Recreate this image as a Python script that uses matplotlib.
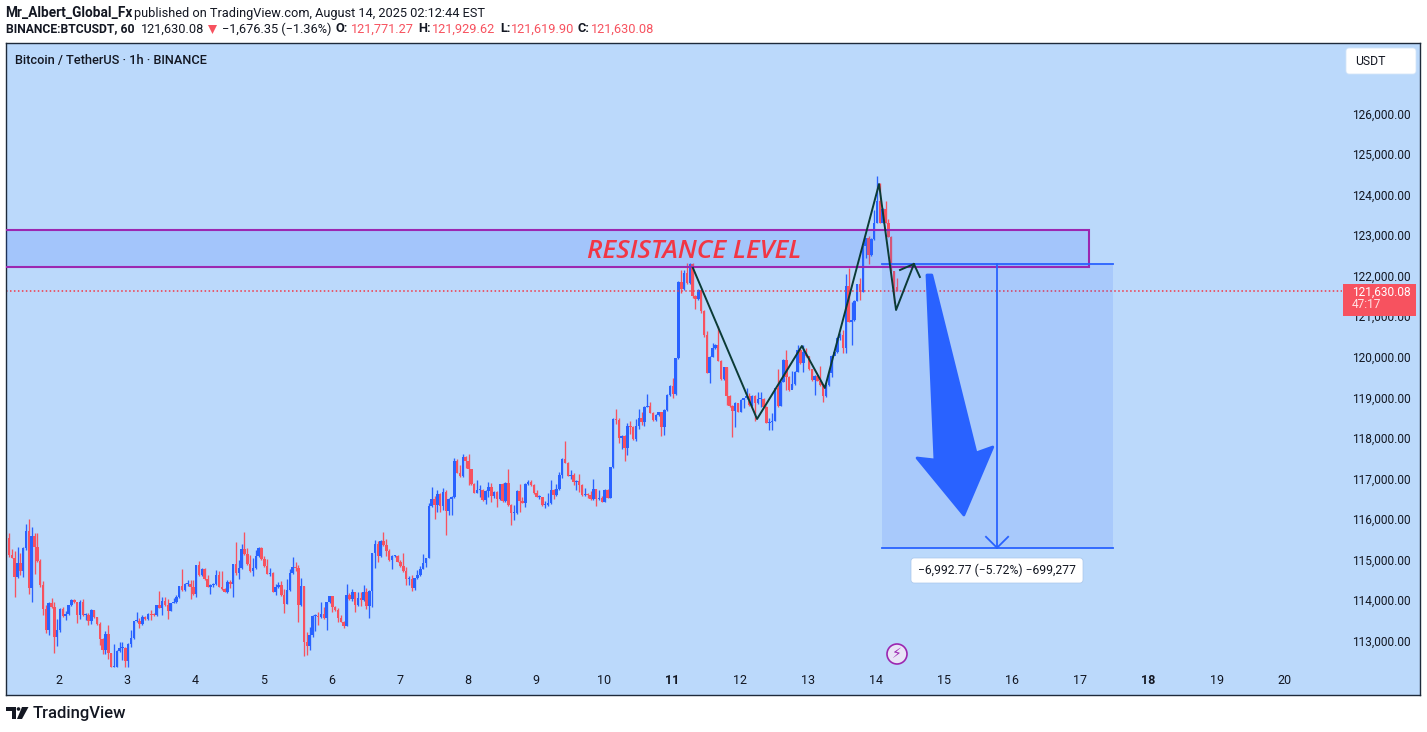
import matplotlib
matplotlib.use("Agg")
import matplotlib.pyplot as plt
import numpy as np
from matplotlib.patches import Rectangle, Polygon, FancyBboxPatch, Circle
from matplotlib.transforms import Affine2D

first_open = 115530
closes = [
    115110, 115040, 114575, 114900, 114725, 115275, 115700, 114305, 115580, 115315,
    114970, 114370, 113785, 113260, 113935, 113835, 113095, 113260, 113780, 113615,
    113645, 113870, 114000, 113950, 113630, 113960, 113630, 113630, 113490, 113755,
    113570, 113410, 113040, 112765, 113160, 112685, 112355, 112355, 112745, 112810,
    112810, 112495, 112915, 113065, 113480, 113490, 113410, 113590, 113525, 113655,
    113640, 113620, 113875, 113810, 113975, 113875, 113735, 113935, 113940, 114080,
    114345, 114245, 114395, 114395, 114310, 114150, 114865, 114615, 114765, 114520,
    114330, 114370, 114395, 114615, 114330, 114270, 114205, 114450, 114395, 114890,
    114660, 114780, 115260, 115125, 114890, 114715, 114780, 115085, 115285, 115000,
    114840, 114650, 114675, 114205, 114310, 114370, 114125, 113910, 114245, 114660,
    114820, 114790, 113875, 114345, 112970, 112875, 113135, 113605, 113615, 113570,
    113655, 113550, 113940, 114100, 113835, 113755, 113565, 113465, 113365, 114125,
    114025, 114190, 113875, 114040, 114000, 114190, 113860, 114230, 115150, 115380,
    115085, 115455, 115355, 115215, 114985, 115085, 115085, 114945, 114845, 114725,
    114520, 114520, 114305, 114535, 114615, 114765, 114905, 115030, 116320, 116490,
    116345, 116615, 116320, 116665, 116205, 116485, 116535, 117430, 117140, 117060,
    117535, 117430, 117225, 116855, 116650, 116705, 116715, 116465, 116695, 116780,
    116565, 116665, 116490, 116860, 116440, 116885, 116345, 116145, 116145, 116690,
    116440, 116400, 116860, 116900, 116835, 116630, 116550, 116550, 116345, 116345,
    116385, 116715, 116580, 116740, 117085, 117480, 117390, 117065, 117085, 116920,
    116935, 116835, 116590, 116605, 116580, 116485, 116745, 116485, 116525, 116425,
    116715, 116525, 117270, 118465, 118440, 117990, 118045, 117760, 118290, 118275,
    117970, 118290, 118500, 118390, 118770, 118785, 118620, 118440, 118565, 118630,
    118275, 118685, 119055, 119280, 119080, 119960, 121850, 121665, 122055, 121810,
    122290, 121500, 121415, 121645, 121130, 120535, 119605, 120000, 120210, 120290,
    119905, 119445, 119740, 119040, 118795, 118660, 118865, 118645, 118935, 118975,
    119040, 118810, 119030, 118850, 118960, 118960, 118770, 118375, 118400, 118420,
    119220, 118795, 119385, 119920, 119510, 119180, 119320, 119630, 120165, 119840,
    120125, 120020, 119690, 119425, 119525, 119410, 119305, 119040, 119305, 119590,
    120030, 120125, 120455, 120535, 120205, 121745, 120865, 120905, 121385, 121785,
    121605, 122730, 122920, 122510, 122905, 123305, 123850, 123305, 123645, 123305,
    122960, 122120, 121730, 121630,
]
highs = [
    115644, 115250, 115215, 115315, 115150, 115315, 115875, 116000, 115790, 115645,
    115645, 115000, 114475, 113875, 113960, 114040, 113960, 113530, 113795, 113820,
    113735, 113870, 114035, 114035, 113950, 114000, 114015, 113670, 113670, 113770,
    113755, 113590, 113465, 113055, 113235, 113385, 112700, 112905, 112770, 112970,
    112970, 112850, 112950, 113260, 113480, 113695, 113565, 113630, 113605, 113690,
    113755, 113670, 113875, 114220, 114080, 114080, 114015, 113935, 114040, 114125,
    114345, 114765, 114410, 114495, 114495, 114495, 114865, 114960, 114780, 114780,
    114615, 114395, 114410, 114740, 114725, 114715, 114290, 114495, 114495, 114890,
    115440, 114985, 115380, 115685, 115290, 115110, 115030, 115235, 115300, 115315,
    115085, 115005, 114780, 114700, 114395, 114450, 114470, 114265, 114520, 114765,
    115060, 114930, 114865, 114535, 114345, 113220, 113345, 113630, 113645, 113710,
    113940, 113835, 113960, 114105, 114105, 113855, 113795, 113630, 113480, 114395,
    114180, 114265, 114205, 114190, 114190, 114370, 114290, 114245, 115150, 115480,
    115455, 115480, 115680, 115505, 115250, 115100, 115100, 115100, 114985, 115170,
    114820, 114600, 114615, 114550, 114740, 114845, 115125, 115045, 116385, 116780,
    116565, 116715, 116645, 116755, 116715, 116510, 116565, 117495, 117480, 117330,
    117600, 117550, 117600, 117240, 116895, 116960, 116835, 116730, 116715, 116920,
    116880, 116690, 116680, 116860, 116880, 116910, 117230, 116360, 116345, 116705,
    116860, 116550, 116880, 116960, 116960, 116855, 116715, 116580, 116550, 116440,
    116650, 116960, 116745, 116860, 117165, 117495, 117920, 117410, 117205, 117125,
    116960, 117110, 116855, 116755, 116630, 116690, 116985, 116745, 116715, 116565,
    116730, 116745, 117290, 118480, 118710, 118480, 118070, 118060, 118375, 118415,
    118290, 118455, 118710, 118645, 118785, 119075, 118890, 118645, 118590, 118645,
    118630, 118700, 119075, 119305, 119470, 119975, 121870, 122140, 122140, 122305,
    122305, 122305, 121525, 121660, 121645, 121150, 120635, 120020, 120330, 120305,
    120760, 119920, 119755, 119755, 119055, 118810, 118885, 118865, 118950, 118990,
    119220, 119100, 119050, 119050, 119140, 119140, 118975, 118785, 118480, 118605,
    119235, 119700, 119400, 119935, 120165, 119525, 119655, 119655, 120290, 120180,
    120290, 120205, 120020, 119690, 119540, 119540, 119780, 119320, 119320, 119605,
    120050, 120140, 120495, 120575, 120660, 122040, 122195, 121360, 121400, 121800,
    121935, 122750, 122935, 122980, 122920, 123620, 124460, 124280, 123660, 123840,
    123390, 122980, 122120, 121930,
]
lows = [
    115050, 115030, 114080, 114535, 114615, 114575, 115235, 114150, 113960, 114640,
    114945, 114330, 113630, 113195, 113135, 113795, 112700, 112875, 113220, 113590,
    113505, 113630, 113850, 113920, 113440, 113530, 113615, 113505, 113385, 113410,
    113550, 113385, 112890, 112670, 112670, 112535, 112355, 112355, 112355, 112725,
    112520, 112355, 112355, 112850, 113045, 113465, 113300, 113385, 113505, 113505,
    113505, 113605, 113605, 113795, 113630, 113850, 113530, 113730, 113920, 113935,
    114040, 114230, 114230, 114345, 114025, 114130, 114080, 114590, 114590, 114495,
    114310, 114150, 114330, 114370, 114310, 114245, 114190, 114180, 114305, 114080,
    114615, 114520, 114765, 115110, 114865, 114685, 114600, 114765, 115070, 114985,
    114820, 114635, 114600, 114190, 114125, 114305, 114105, 113690, 113900, 114230,
    114640, 114725, 113465, 113860, 112625, 112645, 112765, 113080, 113245, 113385,
    113550, 113530, 113260, 113915, 113710, 113735, 113465, 113450, 113315, 113365,
    114000, 113975, 113710, 113860, 113860, 113975, 113780, 113565, 113835, 114795,
    114930, 115070, 115340, 115095, 114970, 114765, 115050, 114930, 114820, 114700,
    114370, 114370, 114220, 114245, 114520, 114600, 114755, 114820, 115030, 116300,
    116000, 116180, 116180, 116220, 115605, 116095, 116095, 116510, 117125, 117040,
    117040, 117250, 116835, 116835, 116630, 116630, 116530, 116450, 116370, 116530,
    116425, 116510, 116300, 116465, 116425, 116425, 116325, 115850, 115975, 116120,
    116180, 116385, 116300, 116845, 116820, 116615, 116530, 116490, 116325, 116280,
    116325, 116370, 116490, 116565, 116715, 117020, 117370, 117050, 116975, 116835,
    116715, 116670, 116575, 116575, 116525, 116465, 116465, 116325, 116465, 116410,
    116410, 116510, 116510, 117250, 118340, 117880, 117725, 117435, 117575, 118095,
    117945, 117930, 118210, 118315, 118300, 118750, 118605, 118425, 118425, 118545,
    118055, 118070, 118670, 119040, 118975, 119065, 119945, 121565, 121645, 121795,
    121795, 121440, 121170, 121400, 121070, 120495, 119590, 119360, 119985, 120190,
    119885, 119425, 119425, 118810, 118770, 118030, 118260, 118630, 118630, 118730,
    118960, 118795, 118795, 118415, 118835, 118770, 118750, 118360, 118195, 118195,
    118405, 118770, 118775, 119370, 119180, 119165, 119230, 119305, 119615, 119820,
    119630, 120000, 119675, 119410, 119055, 119395, 119285, 118890, 119015, 119285,
    119510, 120040, 120085, 120410, 120085, 120100, 120850, 120290, 120890, 121365,
    121400, 121590, 122425, 122290, 122495, 122890, 123290, 123290, 123290, 123290,
    122945, 122105, 121315, 121620,
]
price_ticks = [113000, 114000, 115000, 116000, 117000, 118000, 119000, 120000,
               121000, 122000, 123000, 124000, 125000, 126000]
day_labels = [2, 3, 4, 5, 6, 7, 8, 9, 10, 11, 12, 13, 14, 15, 16, 17, 18, 19, 20]
first_day_bar = 17.7
bold_days = [11, 18]
last_price = 121630.08
zone_top, zone_bottom, zone_end = 123126, 122214, 380.7
pos_left, pos_right, pos_top, pos_bottom = 307.7, 389.1, 122280, 115287
pos_mid = 348.3
pattern_x = [241.1, 263.7, 279.5, 287.6, 306.7, 312.7, 319.0]
pattern_y = [122189, 118464, 120265, 119229, 124261, 121153, 122288]
barb_x = [314.1, 319.0, 321.1]
barb_y = [122140, 122288, 121967]
arrow_x = [323.6, 325.3, 340.9, 346.8, 336.6, 320.1, 326.4]
arrow_y = [122016, 122016, 117626, 117774, 116096, 117502, 117453]

BG = "#BBD9FB"
BLUE = "#2962FF"
RED = "#F7525F"
INK = "#131722"
PURPLE = "#9C27B0"
LINE = "#0B3B36"
W, H = 1427, 732

plt.rcParams["font.family"] = ["Roboto", "DejaVu Sans"]
fig = plt.figure(figsize=(W / 100, H / 100), dpi=100, facecolor="white")
ax = fig.add_axes([6 / W, (H - 695) / H, 1414 / W, 652 / H], facecolor=BG)
# pixels from the top left corner, for everything around the chart
px = Affine2D().scale(1, -1).translate(0, H)

closes = np.array(closes)
highs = np.array(highs)
lows = np.array(lows)
opens = np.r_[first_open, closes[:-1]]
bars = np.arange(len(closes))
colors = [BLUE if c >= o else RED for o, c in zip(opens, closes)]

ax.vlines(bars, lows, highs, colors=colors, linewidth=0.95, zorder=2)
ax.bar(bars, np.maximum(np.abs(closes - opens), 25), bottom=np.minimum(opens, closes),
       width=0.88, color=colors, linewidth=0, zorder=2.1)

ax.set_xlim(-1.06, 497.4)
ax.set_ylim(111656, 127739)

# axis labels sit inside the frame
ax.set_yticks(price_ticks)
ax.set_yticklabels([f"{p:,.2f}" for p in price_ticks], fontsize=8.6, color=INK)
ax.yaxis.tick_right()
ax.tick_params(axis="y", length=0, pad=-49)
ax.set_xticks([first_day_bar + 24 * k for k in range(len(day_labels))])
ax.set_xticklabels(day_labels, fontsize=9, color=INK)
ax.tick_params(axis="x", length=0, pad=-15)
for lab, d in zip(ax.get_xticklabels(), day_labels):
    if d in bold_days:
        lab.set_fontweight("bold")
for s in ax.spines.values():
    s.set_color("#1E2A3A")
    s.set_linewidth(1)

# resistance zone
ax.add_patch(Rectangle((-5, zone_bottom), zone_end + 5, zone_top - zone_bottom,
                       facecolor="#2962FF", alpha=0.16, linewidth=0, zorder=3))
ax.plot([-1.06, zone_end, zone_end, -1.06], [zone_top, zone_top, zone_bottom, zone_bottom],
        color=PURPLE, linewidth=1.5, zorder=3.2, solid_joinstyle="miter")
ax.text(241.4, (zone_top + zone_bottom) / 2 - 70, "RESISTANCE LEVEL", color="#F23645", fontsize=18.8,
        style="italic", ha="center", va="center", zorder=5, family="Open Sans", fontweight="semibold")

# short position box
ax.add_patch(Rectangle((pos_left, pos_bottom), pos_right - pos_left, pos_top - pos_bottom,
                       facecolor=BLUE, alpha=0.13, linewidth=0, zorder=3))
ax.plot([pos_left, pos_right], [pos_top, pos_top], color=BLUE, linewidth=1.3, zorder=3.5)
ax.plot([pos_left, pos_right], [pos_bottom, pos_bottom], color=BLUE, linewidth=1.3, zorder=3.5)
ax.plot([pos_mid, pos_mid], [pos_top, pos_bottom], color=BLUE, linewidth=1.3, zorder=3.5)
ax.plot([pos_mid - 3.9, pos_mid, pos_mid + 3.9], [pos_bottom + 271, pos_bottom, pos_bottom + 271],
        color=BLUE, linewidth=1.3, zorder=3.5)

# big arrow and hand drawn pattern
ax.add_patch(Polygon(np.c_[arrow_x, arrow_y], closed=True, facecolor=BLUE, edgecolor=BLUE,
                     linewidth=2, joinstyle="round", zorder=4))
ax.plot(pattern_x, pattern_y, color=LINE, linewidth=1.4, zorder=4.5)
ax.plot(barb_x, barb_y, color=LINE, linewidth=1.4, zorder=4.5)

# last price
ax.plot([-1.06, 470], [last_price, last_price], color="#F23645", linewidth=1.1,
        linestyle=(0, (1, 1.6)), zorder=2.5)
fig.add_artist(Rectangle((1343, 284), 73, 32, facecolor=RED, linewidth=0, transform=px, zorder=6))
fig.text(1352, 292, "121,630.08", color="white", fontsize=8.6, va="center", transform=px, zorder=7)
fig.text(1352, 305, "47:17", color="#FFE3E5", fontsize=8.6, va="center", transform=px, zorder=7)

# measure label
fig.add_artist(FancyBboxPatch((914, 561), 166, 19, boxstyle="round,pad=3,rounding_size=3",
                              facecolor="white", edgecolor="#A9C6EA", linewidth=0.5,
                              transform=px, zorder=6))
fig.text(997, 570.5, "\u22126,992.77 (\u22125.72%) \u2212699,277", color=INK, fontsize=8.7,
         ha="center", va="center", transform=px, zorder=7)

# USDT button
fig.add_artist(FancyBboxPatch((1349, 51), 64, 20, boxstyle="round,pad=3,rounding_size=3",
                              facecolor="white", edgecolor="#D5E5F8", linewidth=0.6,
                              transform=px, zorder=6))
fig.text(1355, 61.5, "USDT", color=INK, fontsize=8.8, va="center", transform=px, zorder=7)

# lightning badge
fig.add_artist(Circle((897, 654), 10, facecolor="#E9E4F7", edgecolor=PURPLE, linewidth=1.2,
                      transform=px, zorder=6))
fig.text(897, 654.5, "\u26a1", color=PURPLE, fontsize=10, ha="center", va="center",
         family="DejaVu Sans", transform=px, zorder=7)

# header
fig.text(5, 13, "Mr_Albert_Global_Fx", fontsize=9.8, fontweight="bold", color=INK, va="center", transform=px)
fig.text(134, 13, "published on TradingView.com, August 14, 2025 02:12:44 EST", fontsize=9.15,
         color=INK, va="center", transform=px)
header = [
    (6, "BINANCE:BTCUSDT, 60", INK, "bold", 8.7),
    (141, "121,630.08", INK, "normal", 9.2),
    (222, "\u22121,676.35 (\u22121.36%)", INK, "normal", 9.2),
    (336, "O:", INK, "bold", 9.2),
    (351, "121,771.27", RED, "normal", 9.2),
    (418, "H:", INK, "bold", 9.2),
    (432, "121,929.62", RED, "normal", 9.2),
    (500, "L:", INK, "bold", 9.2),
    (511, "121,619.90", RED, "normal", 9.2),
    (578, "C:", INK, "bold", 9.2),
    (591, "121,630.08", RED, "normal", 9.2),
]
for x, s, c, w, fs in header:
    fig.text(x, 29, s, fontsize=fs, color=c, fontweight=w, va="center", transform=px)
fig.add_artist(Polygon([(208, 25), (217, 25), (212.5, 34)], facecolor=RED, linewidth=0, transform=px))
fig.text(15, 60.5, "Bitcoin / TetherUS \u00b7 1h \u00b7 BINANCE", fontsize=9.2, color=INK,
         fontweight="medium", va="center", transform=px)

# TradingView logo
fig.add_artist(Polygon([(6, 707), (16, 707), (16, 719), (12, 719), (12, 711), (6, 711)],
                       facecolor=INK, linewidth=0, transform=px))
fig.add_artist(Circle((18.5, 709), 1.8, facecolor=INK, linewidth=0, transform=px))
fig.add_artist(Polygon([(22, 707), (28.5, 707), (22, 719), (17, 719)], facecolor=INK, linewidth=0, transform=px))
fig.text(33, 713.5, "TradingView", fontsize=12, color=INK, fontweight="medium", va="center", transform=px)

fig.savefig("out.png", dpi=100)
